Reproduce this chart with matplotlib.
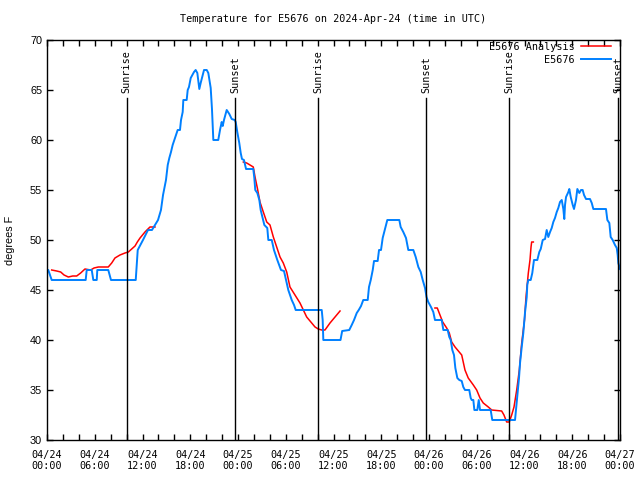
import numpy as np
import pandas as pd
import matplotlib
matplotlib.use('Agg')
import matplotlib.pyplot as plt
import matplotlib.dates as mdates

#Dados (horas desde 04/24 00:00 UTC, graus F)
start = pd.Timestamp('2024-04-24 00:00')

obs_hours = [0.0, 0.16, 0.59, 4.86, 4.99, 5.62, 5.82, 6.25, 6.32, 7.70, 8.04, 11.15, 11.40, 12.06,
             12.69, 13.19, 13.57, 13.95, 14.32, 14.58, 14.95, 15.17, 15.37, 15.58, 15.79, 16.0, 16.21,
             16.42, 16.71, 16.84, 17.05, 17.13, 17.55, 17.68, 17.84, 18.06, 18.26, 18.47, 18.68, 18.89,
             19.14, 19.31, 19.51, 19.73, 20.07, 20.27, 20.57, 20.73, 20.90, 21.52, 21.74, 21.95, 22.08,
             22.24, 22.58, 22.91, 23.21, 23.59, 23.71, 23.91, 24.16, 24.34, 24.50, 24.75, 25.01, 25.92,
             26.05, 26.17, 26.43, 26.68, 26.85, 27.10, 27.31, 27.68, 27.81, 28.24, 28.52, 28.94, 29.40,
             29.78, 30.03, 30.32, 30.75, 31.04, 31.25, 34.52, 34.64, 34.72, 36.88, 37.09, 37.98, 38.29,
             38.58, 38.92, 39.17, 39.46, 39.74, 40.30, 40.46, 40.68, 40.93, 41.09, 41.55, 41.72, 41.97,
             42.18, 42.38, 42.60, 42.76, 44.27, 44.44, 44.77, 45.11, 45.40, 46.03, 46.33, 46.66, 46.96,
             47.21, 47.50, 47.69, 47.91, 48.25, 48.54, 48.75, 49.60, 49.80, 50.35, 50.55, 50.73, 50.93,
             51.14, 51.31, 51.56, 51.81, 52.11, 52.31, 52.52, 53.06, 53.24, 53.37, 53.57, 53.70, 54.07,
             54.25, 54.41, 55.75, 55.95, 58.81, 58.93, 59.10, 59.31, 59.44, 59.65, 59.85, 60.06, 60.28,
             60.35, 60.48, 60.78, 60.98, 61.19, 61.61, 61.86, 62.04, 62.29, 62.58, 62.79, 62.99, 63.21,
             63.42, 63.62, 63.83, 64.05, 64.25, 64.46, 64.68, 64.88, 65.00, 65.09, 65.22, 65.51, 65.63,
             65.81, 66.06, 66.22, 66.47, 66.64, 66.89, 67.10, 67.31, 67.48, 67.73, 68.23, 68.45, 68.65,
             70.24, 70.41, 70.66, 70.83, 71.08, 71.37, 71.59, 71.71, 71.79, 72.0]
obs_temps = [47, 47, 46, 46, 47, 47, 46, 46, 47, 47, 46, 46, 49, 50,
             51, 51, 51.5, 52, 53, 54.5, 56, 57.5, 58.2, 58.8, 59.5, 60, 60.5,
             61, 61, 62, 62.8, 64, 64, 65, 65.3, 66.2, 66.5, 66.8, 67, 66.7,
             65.1, 65.7, 66.3, 67, 67, 66.7, 65.2, 63.1, 60, 60, 61, 61.8, 61.4,
             62, 63, 62.6, 62.1, 62, 61.8, 60.8, 59.7, 58.7, 58.1, 58, 57.1, 57.1,
             56.2, 55, 54.7, 54, 53, 52.2, 51.5, 51.2, 50, 50, 49, 48, 47,
             46.9, 46, 45, 44, 43.5, 43, 43, 42, 40, 40, 40.9, 41, 41.5,
             42, 42.7, 43, 43.4, 44, 44, 45.3, 46, 47, 47.9, 47.9, 49, 49,
             50.2, 50.8, 51.5, 52, 52, 51.3, 50.8, 50.2, 49, 49, 48.3, 47.3, 46.8,
             46, 45.2, 44.3, 43.8, 43.3, 42.8, 42, 42, 41, 41, 40.3, 40, 39,
             38.5, 37.2, 36.2, 36, 35.9, 35.3, 35, 35, 34.2, 34, 34, 33, 33,
             34, 33, 33, 32, 32, 33, 34.5, 36.2, 37.7, 39.3, 40.7, 42.7, 44.3,
             45.5, 46, 46, 46.7, 48, 48, 48.8, 49.1, 50, 50.1, 51, 50.3, 50.8,
             51.2, 51.8, 52.2, 52.8, 53.2, 53.8, 54, 53.1, 52.1, 53.5, 54.3, 54.8, 55.1,
             54.3, 53.5, 53.1, 54, 55.1, 54.7, 55, 55, 54.5, 54.1, 54.1, 53.7, 53.1,
             53.1, 52, 51.7, 50.3, 50, 49.5, 49.2, 48.5, 47.7, 47.1]

nan = np.nan
ana_hours = [0.59, 1.22, 1.72, 2.14, 2.68, 3.23, 3.73, 4.23, 4.77, 5.49, 5.91, 6.45, 7.70, 8.13,
             8.54, 9.17, 9.80, 10.22, 10.64, 11.06, 11.35, 11.69, 12.31, 12.94, 13.57, 19.0,
             24.67, 25.09, 25.51, 25.92, 26.14, 26.43, 26.76, 27.18, 27.61, 28.02, 28.44, 28.86,
             29.28, 29.69, 30.12, 30.53, 31.16, 31.79, 32.63, 33.26, 33.68, 34.09, 34.52, 34.93,
             35.56, 36.19, 36.82, 42.0,
             48.75, 49.04, 49.38, 49.72, 50.22, 50.55, 50.85, 51.27, 51.90, 52.11, 52.52, 52.93,
             53.57, 53.99, 54.41, 54.82, 55.45, 55.88, 57.13, 57.42, 57.76, 58.09, 58.39, 58.68,
             59.02, 59.35, 59.65, 60.0, 60.19, 60.48, 60.69, 60.82, 60.90, 61.11]
ana_temps = [47, 46.9, 46.8, 46.5, 46.3, 46.4, 46.4, 46.7, 47.1, 47, 47.2, 47.3, 47.3, 47.7,
             48.2, 48.5, 48.7, 48.8, 49.1, 49.4, 49.8, 50.2, 50.8, 51.3, 51.3, nan,
             57.8, 57.7, 57.5, 57.3, 56.3, 55.2, 53.8, 52.8, 51.8, 51.5, 50.3, 49.3,
             48.3, 47.7, 46.8, 45.3, 44.5, 43.7, 42.3, 41.7, 41.3, 41.1, 41, 41,
             41.7, 42.3, 42.9, nan,
             43.2, 43.2, 42.5, 41.8, 41.2, 40.7, 39.8, 39.3, 38.7, 38.5, 37, 36.2,
             35.5, 35, 34.2, 33.7, 33.3, 33, 32.9, 32.5, 31.8, 31.8, 32.5, 33.3,
             35, 37, 39.7, 42, 44.3, 46.7, 48, 49.3, 49.8, 49.8]

sunrise_hours = [10.01, 34.09, 58.09]
sunset_hours = [23.66, 47.67, 71.79]

def horas(h):
    return start + pd.to_timedelta(h, unit='h')

mono = 'DejaVu Sans Mono'
fs = 7.3

fig = plt.figure(figsize=(6.4, 4.8), dpi=100)
ax = fig.add_axes([47/640, 40/480, 573/640, 400/480])

ax.plot(horas(ana_hours), ana_temps, color='#ff0000', lw=1.1, label='E5676 Analysis')
ax.plot(horas(obs_hours), obs_temps, color='#0080ff', lw=1.4, label='E5676')

#Linhas de nascer/por do sol
for nome, lista in (('Sunrise', sunrise_hours), ('Sunset', sunset_hours)):
    for h in lista:
        ax.plot([horas(h), horas(h)], [30, 64.15], color='black', lw=1.0)
        ax.text(horas(h), 64.7, nome, rotation=90, ha='center', va='bottom',
                family=mono, fontsize=fs)

ax.set_xlim(horas(0), horas(72))
ax.set_ylim(30, 70)
ax.set_yticks(range(30, 71, 5))

ax.xaxis.set_major_locator(mdates.HourLocator(byhour=range(0, 24, 6)))
ax.xaxis.set_minor_locator(mdates.HourLocator(byhour=range(0, 24, 2)))
ax.xaxis.set_major_formatter(mdates.DateFormatter('%m/%d\n%H:%M'))

ax.tick_params(which='both', direction='in', top=True, right=True, length=4, width=1)
ax.tick_params(axis='x', pad=7)
for lab in ax.get_xticklabels():
    lab.set_family(mono)
    lab.set_fontsize(fs)
for lab in ax.get_yticklabels():
    lab.set_family('Liberation Sans')
    lab.set_fontsize(7.8)
for s in ax.spines.values():
    s.set_linewidth(1.0)

ax.set_title('Temperature for E5676 on 2024-Apr-24 (time in UTC)', family=mono,
             fontsize=fs, pad=13)
ax.set_ylabel('degrees F', family='Liberation Sans', fontsize=7.8, labelpad=11)

ax.legend(loc='upper right', bbox_to_anchor=(0.984, 0.995), frameon=False, markerfirst=False,
          prop={'family': mono, 'size': fs}, handlelength=2.9, handletextpad=0.7,
          labelspacing=0.3, borderaxespad=0, borderpad=0)

fig.savefig('out.png', dpi=100)
